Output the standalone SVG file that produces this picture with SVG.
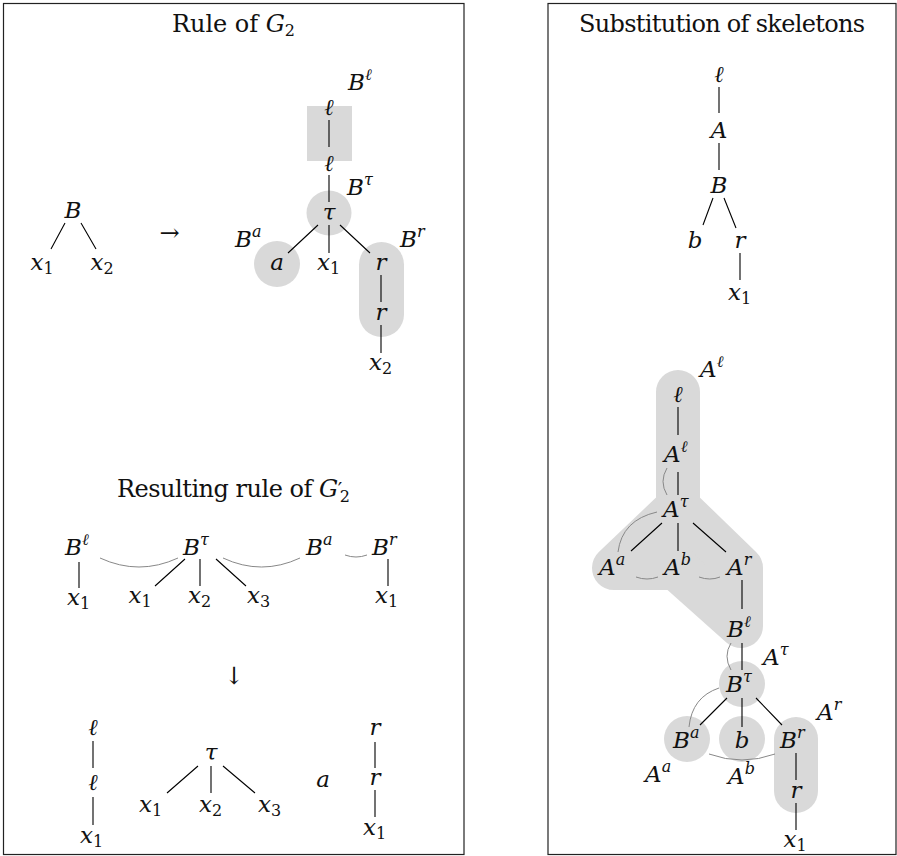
<svg xmlns="http://www.w3.org/2000/svg" width="897" height="856" viewBox="0 0 897 856">
<style>
.frame{fill:none;stroke:#222;stroke-width:1.2}
text{font-family:"DejaVu Serif",serif;fill:#111}
.t{font-size:24px}
.m{font-style:italic;font-size:23px}
.c{text-anchor:middle}
.up{font-style:normal}
.ar{font-family:"DejaVu Serif",serif;font-size:24px}
.e{stroke:#000;stroke-width:1.1;fill:none}
.g{stroke:#888;stroke-width:1;fill:none}
.f{fill:#d9d9d9}
.hull{fill:#d9d9d9;stroke:#d9d9d9;stroke-width:44;stroke-linejoin:round;stroke-linecap:round}
</style>
<rect width="897" height="856" fill="#fff"/>
<rect class="frame" x="3.5" y="3.5" width="460.5" height="851"/>
<rect class="frame" x="548" y="3.5" width="348" height="851"/>

<g id="titles">
<text class="t c" x="233.5" y="32" textLength="123">Rule of <tspan font-style="italic">G</tspan><tspan font-size="16" dy="4">2</tspan></text>
<text class="t c" x="233.5" y="497" textLength="233">Resulting rule of <tspan font-style="italic">G</tspan><tspan font-size="20">′</tspan><tspan font-size="16" dx="-2" dy="5">2</tspan></text>
<text class="t c" x="722" y="32" textLength="286">Substitution of skeletons</text>
</g>

<g id="shading">
<rect class="f" x="307" y="106" width="45" height="55"/>
<circle class="f" cx="329" cy="213" r="22.5"/>
<circle class="f" cx="277" cy="264" r="23"/>
<rect class="f" x="359" y="242" width="45" height="95" rx="22.5"/>
<path class="hull" d="M678,392 L678,507 L614,568 L676,568 L741,626 L741,568 L678,507 Z"/>
<circle class="f" cx="742" cy="684" r="23"/>
<circle class="f" cx="687" cy="739" r="23"/>
<circle class="f" cx="742" cy="739" r="23"/>
<rect class="f" x="774" y="717" width="44" height="96" rx="22"/>
</g>

<g id="connectors">
<path class="e" d="M65,223 L51,249 M81,223 L96,249"/>
<path class="e" d="M329,120 L329,147 M329,175 L329,202 M318,225 L288,253 M329,225 L329,253 M340,225 L370,253 M381,275 L381,302 M381,325 L381,353"/>
<path class="e" d="M79,562 L79,588 M185,559 L155,586 M200,559 L200,586 M216,559 L246,586 M388,559 L388,586"/>
<path class="e" d="M93,741 L93,768 M93,797 L93,825 M198,766 L167,793 M211,766 L211,793 M223,766 L255,793 M375,742 L375,768 M375,790 L375,817"/>
<path class="g" d="M100,558 Q139,576 178,558 M223,558 Q261.5,576 300,558 M345,555 Q356,559 367,555"/>
<path class="e" d="M719,87 L719,113 M719,143 L719,170 M713,198 L703,225 M724,198 L736,228 M740,253 L740,280"/>
<path class="e" d="M678,407 L678,435 M678,472 L678,495 M662,523 L631,551 M678,523 L678,551 M693,523 L726,552 M742,580 L742,609"/>
<path class="g" d="M667,468 Q659,481.5 667,495 M657,512 Q622,520 618,552 M636,577 Q647,581 658,577 M699,577 Q710,581 720,577"/>
<path class="e" d="M742,643 L742,670 M727,698 L700,725 M742,698 L742,727 M756,698 L782,725 M796,753 L796,780 M796,803 L796,830"/>
<path class="g" d="M731,643 Q723,656 731,670 M719,688 Q692,697 689,727 M709,754 Q742,766 775,754"/>
</g>

<g id="n-B"><text class="m c" x="73" y="218">B</text></g>
<g id="n-x1a"><text class="m c" x="42" y="270">x<tspan class="up" font-size="16" dy="4">1</tspan></text></g>
<g id="n-x2a"><text class="m c" x="102" y="270">x<tspan class="up" font-size="16" dy="4">2</tspan></text></g>
<g id="arrow-right"><text class="ar c" x="169.5" y="241">→</text></g>
<g id="n-l1"><text class="m c" x="329" y="115">ℓ</text></g>
<g id="n-l2"><text class="m c" x="329" y="171">ℓ</text></g>
<g id="lab-Bl"><text class="m" x="348" y="90">B<tspan font-size="16" dy="-10">ℓ</tspan></text></g>
<g id="n-tau"><text class="m c" x="329" y="220">τ</text></g>
<g id="lab-Btau"><text class="m" x="347" y="195">B<tspan font-size="16" dy="-10">τ</tspan></text></g>
<g id="n-a"><text class="m c" x="277" y="270">a</text></g>
<g id="lab-Ba"><text class="m" x="235" y="247">B<tspan font-size="16" dy="-10">a</tspan></text></g>
<g id="n-x1b"><text class="m c" x="328.5" y="270">x<tspan class="up" font-size="16" dy="4">1</tspan></text></g>
<g id="n-r1"><text class="m c" x="381" y="270">r</text></g>
<g id="n-r2"><text class="m c" x="381" y="320">r</text></g>
<g id="n-x2b"><text class="m c" x="380.5" y="370">x<tspan class="up" font-size="16" dy="4">2</tspan></text></g>
<g id="lab-Br"><text class="m" x="400" y="247">B<tspan font-size="16" dy="-10">r</tspan></text></g>

<g id="n2-Bl"><text class="m" x="65" y="555">B<tspan font-size="16" dy="-10">ℓ</tspan></text></g>
<g id="n2-Btau"><text class="m" x="183" y="555">B<tspan font-size="16" dy="-10">τ</tspan></text></g>
<g id="n2-Ba"><text class="m" x="306" y="555">B<tspan font-size="16" dy="-10">a</tspan></text></g>
<g id="n2-Br"><text class="m" x="372" y="555">B<tspan font-size="16" dy="-10">r</tspan></text></g>
<g id="n2-x1a"><text class="m c" x="78.5" y="605">x<tspan class="up" font-size="16" dy="4">1</tspan></text></g>
<g id="n2-x1b"><text class="m c" x="140" y="603">x<tspan class="up" font-size="16" dy="4">1</tspan></text></g>
<g id="n2-x2"><text class="m c" x="199.5" y="603">x<tspan class="up" font-size="16" dy="4">2</tspan></text></g>
<g id="n2-x3"><text class="m c" x="258.5" y="603">x<tspan class="up" font-size="16" dy="4">3</tspan></text></g>
<g id="n2-x1c"><text class="m c" x="386.5" y="603">x<tspan class="up" font-size="16" dy="4">1</tspan></text></g>
<g id="arrow-down"><text class="ar c" x="234" y="684">↓</text></g>
<g id="n3-l1"><text class="m c" x="93" y="735">ℓ</text></g>
<g id="n3-l2"><text class="m c" x="93" y="790">ℓ</text></g>
<g id="n3-x1a"><text class="m c" x="91.5" y="843">x<tspan class="up" font-size="16" dy="4">1</tspan></text></g>
<g id="n3-tau"><text class="m c" x="211" y="760">τ</text></g>
<g id="n3-x1b"><text class="m c" x="150.5" y="812">x<tspan class="up" font-size="16" dy="4">1</tspan></text></g>
<g id="n3-x2"><text class="m c" x="210.5" y="812">x<tspan class="up" font-size="16" dy="4">2</tspan></text></g>
<g id="n3-x3"><text class="m c" x="269.5" y="812">x<tspan class="up" font-size="16" dy="4">3</tspan></text></g>
<g id="n3-a"><text class="m c" x="323" y="787">a</text></g>
<g id="n3-r1"><text class="m c" x="375" y="735">r</text></g>
<g id="n3-r2"><text class="m c" x="375" y="785">r</text></g>
<g id="n3-x1c"><text class="m c" x="374.5" y="835">x<tspan class="up" font-size="16" dy="4">1</tspan></text></g>

<g id="s-l"><text class="m c" x="719" y="82">ℓ</text></g>
<g id="s-A"><text class="m c" x="719" y="138">A</text></g>
<g id="s-B"><text class="m c" x="719" y="193">B</text></g>
<g id="s-b"><text class="m c" x="695" y="248">b</text></g>
<g id="s-r"><text class="m c" x="740" y="248">r</text></g>
<g id="s-x1"><text class="m c" x="739.5" y="300">x<tspan class="up" font-size="16" dy="4">1</tspan></text></g>

<g id="lab-Al"><text class="m" x="700" y="377">A<tspan font-size="16" dy="-10">ℓ</tspan></text></g>
<g id="t-l"><text class="m c" x="678" y="402">ℓ</text></g>
<g id="t-Al"><text class="m" x="664" y="462">A<tspan font-size="16" dy="-10">ℓ</tspan></text></g>
<g id="t-Atau"><text class="m" x="663" y="517">A<tspan font-size="16" dy="-10">τ</tspan></text></g>
<g id="t-Aa"><text class="m" x="599" y="575">A<tspan font-size="16" dy="-10">a</tspan></text></g>
<g id="t-Ab"><text class="m" x="664" y="575">A<tspan font-size="16" dy="-10">b</tspan></text></g>
<g id="t-Ar"><text class="m" x="727" y="575">A<tspan font-size="16" dy="-10">r</tspan></text></g>
<g id="t-Bl"><text class="m" x="727" y="637">B<tspan font-size="16" dy="-10">ℓ</tspan></text></g>
<g id="t-Btau"><text class="m" x="726" y="692">B<tspan font-size="16" dy="-10">τ</tspan></text></g>
<g id="lab-Atau"><text class="m" x="763" y="665">A<tspan font-size="16" dy="-10">τ</tspan></text></g>
<g id="t-Ba"><text class="m" x="673" y="748">B<tspan font-size="16" dy="-10">a</tspan></text></g>
<g id="t-b"><text class="m c" x="742" y="748">b</text></g>
<g id="t-Br"><text class="m" x="780" y="748">B<tspan font-size="16" dy="-10">r</tspan></text></g>
<g id="t-r"><text class="m c" x="796" y="798">r</text></g>
<g id="t-x1"><text class="m c" x="795" y="847">x<tspan class="up" font-size="16" dy="4">1</tspan></text></g>
<g id="lab-Ar"><text class="m" x="817" y="720">A<tspan font-size="16" dy="-10">r</tspan></text></g>
<g id="lab-Aa"><text class="m" x="645" y="782">A<tspan font-size="16" dy="-10">a</tspan></text></g>
<g id="lab-Ab"><text class="m" x="728" y="784">A<tspan font-size="16" dy="-10">b</tspan></text></g>
</svg>
